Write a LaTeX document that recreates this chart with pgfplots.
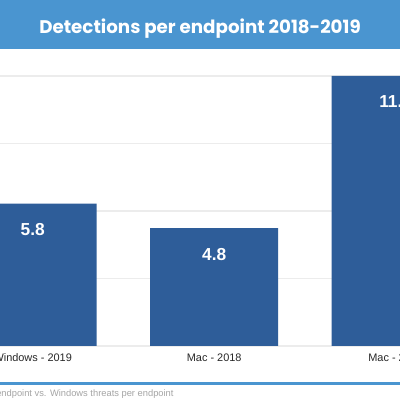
\documentclass[border=0pt]{standalone}
\usepackage{fontspec}
\setmainfont{Liberation Sans}
\newfontfamily\titlefont{Poppins}
\usepackage{pgfplots}
\pgfplotsset{compat=1.18}
\definecolor{titleblue}{RGB}{74,149,208}
\definecolor{barblue}{RGB}{46,93,153}
\definecolor{gridgray}{RGB}{236,236,236}
\definecolor{srcgray}{RGB}{165,165,165}
\definecolor{ticktext}{RGB}{40,40,40}
\begin{document}
\begin{tikzpicture}
\clip (0pt,0pt) rectangle (300pt,300pt);
\fill[white] (0pt,0pt) rectangle (300pt,300pt);
\fill[titleblue] (0pt,262.9pt) rectangle (300pt,300pt);
\node[anchor=base, inner sep=0pt, text=white, font=\titlefont\bfseries\fontsize{13.7}{16}\selectfont] at (150pt,275pt) {Detections per endpoint 2018-2019};
\begin{axis}[
  at={(0pt,40.5pt)}, anchor=south west,
  scale only axis, width=300pt, height=202.5pt,
  xmin=0.8198, xmax=3.0237, ymin=0, ymax=11,
  axis line style={draw=none},
  major tick length=0pt,
  xtick={1,2,3},
  xticklabels={Windows - 2019, Mac - 2018, Mac - 2019},
  ytick={0,2.75,5.5,8.25,11}, yticklabels={},
  ymajorgrids, grid style={gridgray, line width=1.1pt},
  xticklabel style={font=\fontsize{8.2}{9}\selectfont, text=ticktext, anchor=base, yshift=-12pt, inner sep=0pt},
  ybar, bar width=0.705,
  nodes near coords={\pgfmathprintnumber[fixed,fixed zerofill,precision=1]{\pgfplotspointmeta}},
  every node near coord/.append style={anchor=base, yshift=-24pt, inner sep=0pt, font=\bfseries\fontsize{13}{15}\selectfont, text=white, /pgf/number format/assume math mode=true},
]
\addplot[fill=barblue, draw=none] coordinates {(1,5.8) (2,4.8) (3,11.0)};
\end{axis}
\fill[titleblue] (0pt,11.25pt) rectangle (300pt,13.3pt);
\node[anchor=base west, inner sep=0pt, text=srcgray, font=\fontsize{7}{8}\selectfont] at (-3pt,2.5pt) {\llap{Mac threats per }endpoint vs. Windows threats per endpoint};
\end{tikzpicture}
\end{document}
